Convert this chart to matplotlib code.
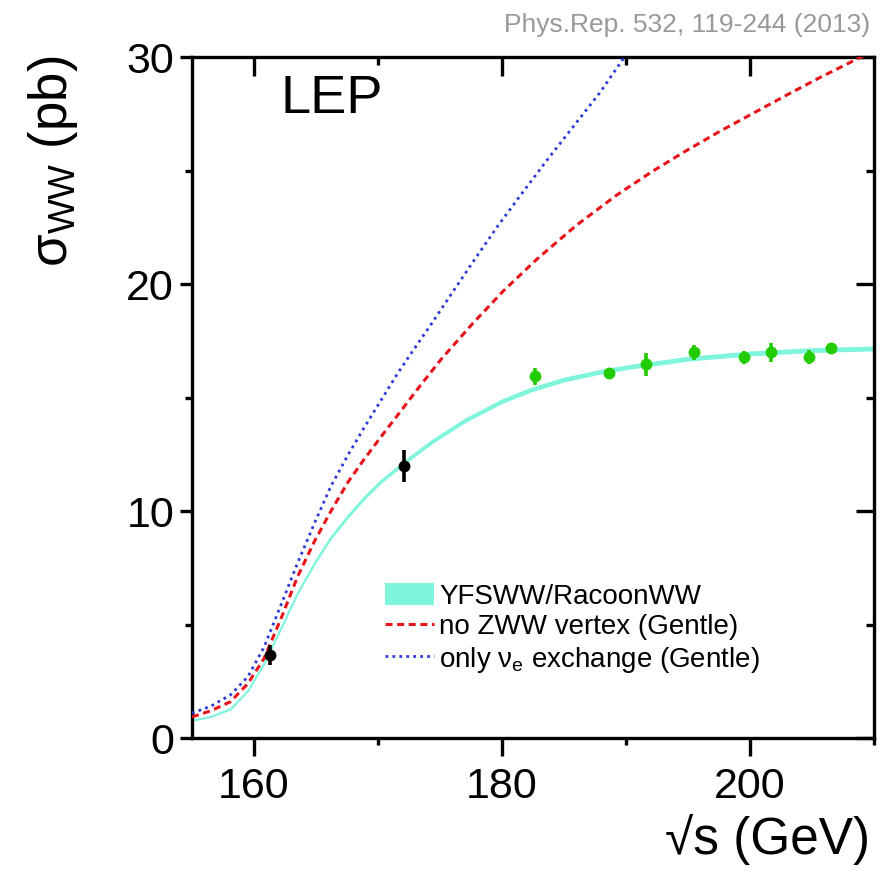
import matplotlib
matplotlib.use("Agg")
import matplotlib.pyplot as plt
from matplotlib.patches import Patch
from matplotlib.lines import Line2D
from matplotlib.ticker import MultipleLocator

plt.rcParams['font.family'] = ['Liberation Sans', 'DejaVu Sans']
plt.rcParams['mathtext.fontset'] = 'custom'
plt.rcParams['mathtext.rm'] = 'Liberation Sans'

# YFSWW/RacoonWW prediction (pb) and half width of its band
yfs_x = [155, 156.5, 158.1, 159.5, 160.8, 162.2, 163.5, 164.9, 166.2, 167.6, 168.9, 170.2,
         172.1, 174.3, 177.0, 180, 182.3, 185, 188, 190.5, 195, 200, 205, 210]
yfs_y = [0.79, 0.95, 1.3, 2.1, 3.3, 4.9, 6.4, 7.75, 8.85, 9.8, 10.6, 11.3,
         12.15, 13.05, 14.0, 14.85, 15.35, 15.8, 16.15, 16.38, 16.72, 16.95, 17.1, 17.17]
yfs_band = [0.015, 0.015, 0.02, 0.02, 0.025, 0.03, 0.03, 0.035, 0.04, 0.045, 0.05, 0.05,
            0.055, 0.06, 0.065, 0.065, 0.07, 0.07, 0.07, 0.07, 0.072, 0.073, 0.073, 0.073]

# no ZWW vertex (Gentle)
zww_x = [155, 156.5, 158.1, 159.5, 160.8, 162.2, 163.5, 164.9, 166.2, 167.6, 168.9, 170.2,
         172.1, 173.5, 175.1, 177.6, 180.1, 182.8, 186.0, 189.3, 192.2, 194.9, 197.6,
         200.3, 203.0, 205.6, 208.9, 210]
zww_y = [0.93, 1.2, 1.6, 2.4, 3.5, 5.3, 7.1, 8.7, 10.0, 11.3, 12.3, 13.25,
         14.6, 15.6, 16.7, 18.25, 19.7, 21.1, 22.6, 23.95, 25.0, 25.9, 26.75,
         27.55, 28.35, 29.1, 30.0, 30.3]

# only nu_e exchange (Gentle)
nue_x = [155, 156.5, 158.1, 159.5, 160.8, 162.2, 163.5, 164.9, 166.2, 167.6, 168.9, 170.2,
         171.5, 172.6, 174.3, 176.1, 177.8, 179.7, 181.6, 183.6, 185.75, 187.9, 189.73, 190.5]
nue_y = [1.1, 1.4, 1.9, 2.7, 4.0, 5.9, 7.7, 9.5, 11.1, 12.5, 13.7, 14.85,
         16.0, 16.9, 18.25, 19.72, 21.1, 22.6, 24.0, 25.45, 26.95, 28.45, 29.9, 30.45]

# LEP measurements
lep1_x = [161.3, 172.1]
lep1_y = [3.66, 11.98]
lep1_err = [0.46, 0.7]

lep2_x = [182.7, 188.6, 191.6, 195.5, 199.5, 201.7, 204.8, 206.5]
lep2_y = [15.95, 16.08, 16.47, 17.0, 16.78, 17.0, 16.8, 17.2]
lep2_err = [0.37, 0.15, 0.5, 0.34, 0.29, 0.42, 0.3, 0.2]

cyan = '#7ff5dc'
red = '#e8141a'
blue = '#2e3ad8'
green = '#22cc00'
dash = (0, (2.3, 1.5))
dots = (0, (1, 1.5))

fig = plt.figure(figsize=(8.81, 8.76), dpi=100)
ax = fig.add_axes([0.218, 0.1575, 0.774, 0.777])

lo = [y - b for y, b in zip(yfs_y, yfs_band)]
hi = [y + b for y, b in zip(yfs_y, yfs_band)]
ax.fill_between(yfs_x, lo, hi, facecolor=cyan, edgecolor=cyan, lw=1.1, zorder=2)
ax.plot(zww_x, zww_y, color=red, lw=2.2, linestyle=dash, zorder=3)
ax.plot(nue_x, nue_y, color=blue, lw=2.0, linestyle=dots, zorder=3)

ax.errorbar(lep1_x, lep1_y, yerr=lep1_err, fmt='o', color='black', ms=7.5,
            elinewidth=2.6, capsize=0, zorder=5)
ax.errorbar(lep2_x, lep2_y, yerr=lep2_err, fmt='o', color=green, ms=7.5,
            elinewidth=2.6, capsize=0, zorder=5)

ax.set_xlim(155, 210)
ax.set_ylim(0, 30)
ax.xaxis.set_major_locator(MultipleLocator(20))
ax.xaxis.set_minor_locator(MultipleLocator(10))
ax.yaxis.set_major_locator(MultipleLocator(10))
ax.yaxis.set_minor_locator(MultipleLocator(5))

for s in ax.spines.values():
    s.set_linewidth(2.4)

ax.tick_params(axis='both', which='both', direction='out', width=2.4, labelsize=31)
ax.tick_params(axis='x', which='major', length=13, pad=8)
ax.tick_params(axis='x', which='minor', length=5)
ax.tick_params(axis='y', which='major', length=9, pad=4)
ax.tick_params(axis='y', which='minor', length=5)

# ticks pointing inward on the top and right sides
top = ax.secondary_xaxis('top')
top.set_xticks([160, 180, 200])
top.set_xticks([170, 190], minor=True)
top.tick_params(which='major', direction='in', length=14, width=2.4, labeltop=False)
top.tick_params(which='minor', direction='in', length=6, width=2.4)
right = ax.secondary_yaxis('right')
right.set_yticks([0, 10, 20, 30])
right.set_yticks([5, 15, 25], minor=True)
right.tick_params(which='major', direction='in', length=13, width=2.4, labelright=False)
right.tick_params(which='minor', direction='in', length=6, width=2.4)

ax.text(0.129, 0.975, 'LEP', transform=ax.transAxes, fontsize=39, va='top', ha='left')

fig.text(0.988, 0.985, 'Phys.Rep. 532, 119-244 (2013)', color='#999999',
         fontsize=19, ha='right', va='top')
fig.text(0.988, 0.012, '√s (GeV)', fontsize=37, ha='right', va='bottom')
fig.text(0.06, 0.937, 'σ$_{\\mathregular{WW}}$ (pb)', fontsize=38, rotation=90,
         ha='center', va='top')

handles = [Patch(facecolor=cyan, edgecolor='none'),
           Line2D([], [], color=red, lw=2.2, linestyle=dash),
           Line2D([], [], color=blue, lw=2.0, linestyle=dots)]
labels = ['YFSWW/RacoonWW', 'no ZWW vertex (Gentle)',
          'only ν$_{\\mathregular{e}}$ exchange (Gentle)']
ax.legend(handles, labels, loc='upper left', bbox_to_anchor=(0.283, 0.228),
          frameon=False, prop={'size': 20},
          handlelength=1.75, handleheight=0.85, handletextpad=0.2, labelspacing=0.15,
          borderaxespad=0, borderpad=0)

fig.savefig('out.png', dpi=100)
